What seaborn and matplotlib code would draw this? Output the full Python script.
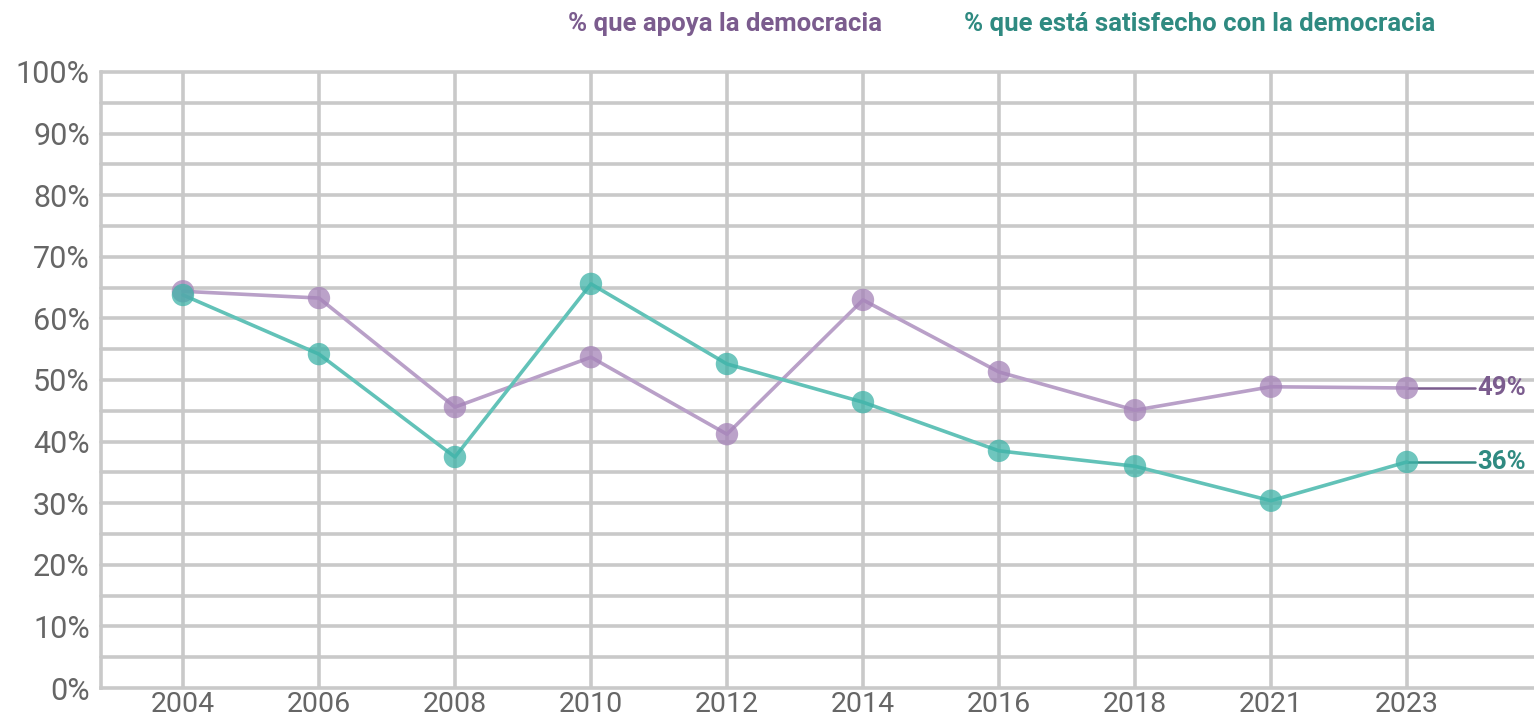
import matplotlib
matplotlib.use("Agg")
import matplotlib.pyplot as plt
import seaborn as sns
import pandas as pd
import numpy as np

years = ["2004", "2006", "2008", "2010", "2012", "2014", "2016", "2018", "2021", "2023"]
apoya = [64.4, 63.3, 45.6, 53.7, 41.2, 63.0, 51.3, 45.1, 48.9, 48.7]
satisfecho = [63.8, 54.2, 37.5, 65.6, 52.6, 46.4, 38.5, 36.0, 30.4, 36.7]
series_names = ["% que apoya la democracia", "% que está satisfecho con la democracia"]
end_labels = ["49%", "36%"]
yticks = list(range(0, 101, 10))

purple_line = "#b9a0c8"
purple_mark = "#a583b8"
purple_text = "#7b5c8e"
teal_line = "#62c2b8"
teal_mark = "#3fb3a8"
teal_text = "#2f8a81"
grid_c = "#c9c9c9"

sns.set_theme(style="white")
plt.rcParams["font.family"] = ["Roboto", "DejaVu Sans"]

df = pd.DataFrame({
    "pos": list(range(len(years))) * 2,
    "val": apoya + satisfecho,
    "serie": [series_names[0]] * len(years) + [series_names[1]] * len(years),
})

fig = plt.figure(figsize=(15.34, 7.24), dpi=100)
ax = fig.add_axes([0.0658, 0.0497, 0.9342, 0.8509])

# grid
for y in np.arange(5, 101, 5):
    ax.axhline(y, color=grid_c, lw=2.6, zorder=0, clip_on=False)
for i in range(len(years)):
    ax.axvline(i, color=grid_c, lw=2.6, zorder=0)

palette_line = {series_names[0]: purple_line, series_names[1]: teal_line}
sns.lineplot(data=df, x="pos", y="val", hue="serie", palette=palette_line,
             lw=2.6, ax=ax, legend=False, zorder=3)
for name, mc in [(series_names[0], purple_mark), (series_names[1], teal_mark)]:
    sub = df[df["serie"] == name]
    sns.scatterplot(data=sub, x="pos", y="val", color=mc, s=260, alpha=0.75,
                    edgecolor="none", ax=ax, legend=False, zorder=4)

# end labels
last = len(years) - 1
for vals, lab, lc, tc in [(apoya, end_labels[0], purple_text, purple_text),
                          (satisfecho, end_labels[1], teal_text, teal_text)]:
    v = vals[-1]
    ax.plot([last, last + 0.5], [v, v], color=lc, lw=1.8, zorder=2, clip_on=False)
    ax.text(last + 0.52, v, lab, color=tc, fontsize=18.5, fontweight="bold",
            va="center", ha="left")

ax.set_xlim(-0.603, 9.934)
ax.set_ylim(0, 100)
ax.set_xticks(range(len(years)))
ax.set_xticklabels(years)
ax.set_yticks(yticks)
ax.set_yticklabels([f"{t}%" for t in yticks])
ax.tick_params(axis="both", labelcolor="#666666", length=0)
ax.tick_params(axis="x", pad=2, labelsize=20.5)
ax.tick_params(axis="y", pad=8, labelsize=22)
ax.set_xlabel("")
ax.set_ylabel("")
for s in ["top", "right"]:
    ax.spines[s].set_visible(False)
for s in ["left", "bottom"]:
    ax.spines[s].set_color(grid_c)
    ax.spines[s].set_linewidth(2.6)

# legend texts at top
fig.text(725 / 1534, 1 - 24 / 724, series_names[0], color=purple_text,
         fontsize=18.5, fontweight="bold", ha="center", va="center")
fig.text(1200 / 1534, 1 - 24 / 724, series_names[1], color=teal_text,
         fontsize=18.5, fontweight="bold", ha="center", va="center")

fig.savefig("out.png", dpi=100, facecolor="white")
